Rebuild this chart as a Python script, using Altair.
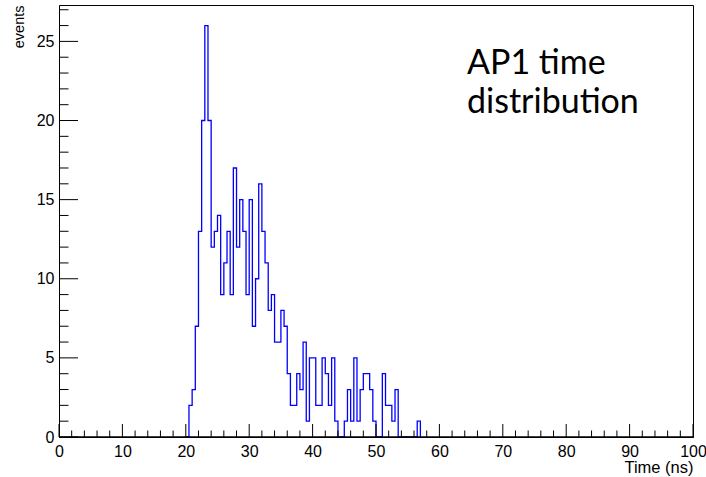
import altair as alt
import pandas as pd

# Histogram: AP1 time distribution, 0.5 ns bins
bin_start = 20.0
bin_width = 0.5
counts = [0, 2, 3, 7, 13, 20, 26, 20, 12, 13, 14, 9, 11, 13, 9, 17, 12, 15, 13, 9,
          15, 7, 10, 16, 13, 11, 8, 9, 6, 6, 8, 7, 4, 2, 2, 4, 3, 6, 1, 5,
          5, 2, 2, 5, 4, 2, 5, 1, 0, 0, 1, 3, 1, 5, 1, 3, 4, 4, 3, 1,
          0, 0, 4, 2, 2, 1, 3, 0, 0, 0, 0, 0, 0, 1, 0]

x_domain = [0, 100]
y_domain = [0, 27.3]
x_major = [0, 10, 20, 30, 40, 50, 60, 70, 80, 90, 100]
x_minor = [v for v in range(0, 101, 2) if v % 10 != 0]
y_major = [0, 5, 10, 15, 20, 25]
y_minor = [v for v in range(0, 28) if v % 5 != 0]

W, H = 634, 432

edges = [bin_start + i * bin_width for i in range(len(counts))]
hist_df = pd.DataFrame({"time": edges, "events": counts})

xs = alt.Scale(domain=x_domain, nice=False, zero=False)
ys = alt.Scale(domain=y_domain, nice=False)

FONT = "Liberation Sans"

hist = alt.Chart(hist_df).mark_line(
    interpolate="step-after", color="#0000ff", strokeWidth=1.3
).encode(
    x=alt.X("time:Q", scale=xs, axis=alt.Axis(
        values=x_major, labelFontSize=16, labelFont=FONT, labelColor="black",
        labelPadding=6, labelFlush=False, labelOverlap=False, ticks=False, grid=False,
        domain=True, domainColor="black", domainWidth=1, zindex=1,
        title="Time (ns)", titleFont=FONT, titleFontSize=16.5, titleFontWeight="normal",
        titleColor="black", titleAlign="right", titleBaseline="alphabetic",
        titleX=W, titleY=35)),
    y=alt.Y("events:Q", scale=ys, axis=alt.Axis(
        values=y_major, labelFontSize=16, labelFont=FONT, labelColor="black",
        labelPadding=5, labelFlush=False, labelOverlap=False, ticks=False, grid=False,
        domain=True, domainColor="black", domainWidth=1, zindex=1,
        title="events", titleFont=FONT, titleFontSize=14.5, titleFontWeight="normal",
        titleColor="black", titleAngle=270, titleAlign="right",
        titleBaseline="alphabetic", titleX=-36, titleY=0)),
)

def xticks(values, length):
    return alt.Chart(pd.DataFrame({"time": values})).mark_rule(
        color="black", strokeWidth=1
    ).encode(
        x=alt.X("time:Q", scale=xs),
        y=alt.value(H), y2=alt.value(H - length),
    )

def yticks(values, length):
    return alt.Chart(pd.DataFrame({"events": values})).mark_rule(
        color="black", strokeWidth=1
    ).encode(
        y=alt.Y("events:Q", scale=ys),
        x=alt.value(0), x2=alt.value(length),
    )

# bottom frame line drawn above the histogram outline
frame_bottom = alt.Chart(pd.DataFrame({"a": [0]})).mark_rule(
    color="black", strokeWidth=1.6
).encode(x=alt.value(0), x2=alt.value(W), y=alt.value(H))

label = alt.Chart(pd.DataFrame({"a": [0]})).mark_text(
    align="left", baseline="alphabetic", font="Lato", fontSize=34,
    lineHeight=39, color="black", lineBreak="\n"
).encode(
    x=alt.value(408), y=alt.value(69),
    text=alt.value("AP1 time\ndistribution"),
)

chart = alt.layer(
    hist,
    frame_bottom,
    xticks(x_major, 13), xticks(x_minor, 6.5),
    yticks(y_major, 19), yticks(y_minor, 9.5),
    label,
).properties(
    width=W, height=H,
    autosize=alt.AutoSizeParams(type="none"),
    padding={"left": 59, "top": 5, "right": 13, "bottom": 40},
    background="white",
).configure_view(stroke="black", strokeWidth=1)

chart.save("out.html", embed_options={"renderer": "svg", "actions": False})
